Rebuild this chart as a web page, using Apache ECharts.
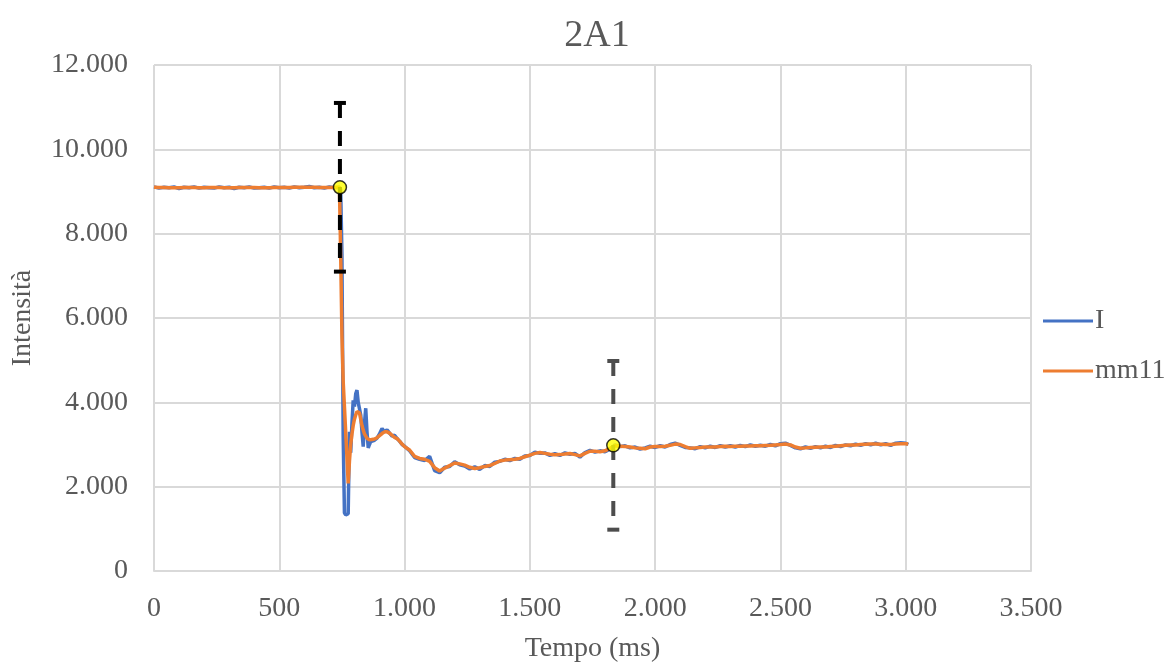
<!DOCTYPE html>
<html>
<head>
<meta charset="utf-8">
<title>2A1</title>
<script src="https://cdn.jsdelivr.net/npm/echarts@6/dist/echarts.min.js"></script>
<style>
  html, body { margin: 0; padding: 0; background: #ffffff; }
  #chart { width: 1169px; height: 662px; }
</style>
</head>
<body>
<div id="chart"></div>
<script>
// Tempo (ms) of each sample
const tempo = [
  0, 20, 40, 60, 80, 100, 120, 140, 160, 180, 200, 220, 240, 260, 280, 300, 320, 340, 360, 380,
  400, 420, 440, 460, 480, 500, 520, 540, 560, 580, 600, 620, 640, 660, 680, 700, 720, 740,
  745, 750, 755, 760, 765, 770, 775, 780, 785, 790, 795, 800, 805, 810, 815, 820, 825, 830,
  835, 840, 845, 850, 855, 860, 865, 870,
  880, 890, 900, 910, 920, 930, 940, 950, 960, 970, 980, 990, 1000,
  1020, 1040, 1060, 1080, 1100, 1120, 1140, 1160, 1180, 1200,
  1220, 1240, 1260, 1280, 1300, 1320, 1340, 1360, 1380, 1400,
  1420, 1440, 1460, 1480, 1500, 1520, 1540, 1560, 1580, 1600,
  1620, 1640, 1660, 1680, 1700, 1720, 1740, 1760, 1780, 1800,
  1820, 1840, 1860, 1880, 1900, 1920, 1940, 1960, 1980, 2000,
  2020, 2040, 2060, 2080, 2100, 2120, 2140, 2160, 2180, 2200,
  2220, 2240, 2260, 2280, 2300, 2320, 2340, 2360, 2380, 2400,
  2420, 2440, 2460, 2480, 2500, 2520, 2540, 2560, 2580, 2600,
  2620, 2640, 2660, 2680, 2700, 2720, 2740, 2760, 2780, 2800,
  2820, 2840, 2860, 2880, 2900, 2920, 2940, 2960, 2980, 3000,
  3010
];

// Raw intensity I
const serieI = [
  9110, 9080, 9100, 9090, 9110, 9070, 9100, 9090, 9110, 9080,
  9100, 9090, 9080, 9110, 9090, 9100, 9070, 9100, 9090, 9110,
  9080, 9090, 9100, 9080, 9110, 9090, 9100, 9080, 9110, 9090,
  9100, 9120, 9090, 9100, 9080, 9110, 9090, 9100,
  9050, 7500, 3200, 1380, 1330, 1340, 1360, 3300, 2800, 3500,
  4050, 3900, 4200, 4290, 4000, 3850, 3700, 3300, 2950, 3500,
  3860, 3300, 2920, 3000, 3070, 3050,
  3100, 3150, 3250, 3380, 3300, 3350, 3270, 3200, 3220, 3140, 3080, 3000, 2960,
  2850, 2690, 2650, 2620, 2720, 2380, 2330, 2460, 2480, 2590,
  2520, 2490, 2420, 2470, 2410, 2500, 2480, 2580, 2600, 2650,
  2620, 2670, 2650, 2730, 2740, 2820, 2790, 2800, 2740, 2780,
  2740, 2800, 2770, 2790, 2700, 2810, 2860, 2820, 2850, 2830,
  2890, 2990, 2950, 2970, 2920, 2940, 2890, 2920, 2960, 2930,
  2970, 2940, 3000, 3030, 2980, 2930, 2920, 2900, 2950, 2920,
  2960, 2930, 2970, 2940, 2970, 2940, 2980, 2950, 2990, 2960,
  2980, 2960, 3000, 2970, 3020, 3030, 2980, 2920, 2900, 2940,
  2910, 2950, 2920, 2960, 2930, 2980, 2950, 2990, 2970, 3010,
  2980, 3020, 2990, 3030, 2990, 3020, 2980, 3030, 3040, 3030,
  3000
];

// 11-sample moving average mm11
const serieMM11 = [
  9100, 9095, 9095, 9090, 9090, 9090, 9095, 9095, 9095, 9090,
  9090, 9095, 9095, 9095, 9090, 9090, 9090, 9095, 9095, 9095,
  9095, 9090, 9090, 9090, 9095, 9095, 9095, 9095, 9100, 9100,
  9100, 9100, 9100, 9095, 9095, 9095, 9095, 9100,
  7500, 5600, 4500, 3900, 3300, 2700, 2080, 2600, 3000, 3250,
  3450, 3600, 3700, 3780, 3820, 3750, 3600, 3450, 3340, 3250,
  3200, 3150, 3120, 3110, 3110, 3120,
  3130, 3160, 3210, 3260, 3300, 3300, 3270, 3220, 3170, 3140, 3080, 3010, 2950,
  2870, 2720, 2670, 2650, 2600, 2450, 2370, 2440, 2500, 2560,
  2540, 2510, 2460, 2430, 2450, 2480, 2500, 2550, 2610, 2630,
  2640, 2650, 2670, 2710, 2750, 2790, 2810, 2790, 2770, 2755,
  2760, 2775, 2785, 2760, 2730, 2790, 2840, 2840, 2830, 2850,
  2910, 2970, 2960, 2950, 2940, 2920, 2910, 2900, 2940, 2950,
  2950, 2960, 2980, 3010, 3000, 2950, 2910, 2920, 2930, 2940,
  2940, 2940, 2950, 2960, 2950, 2960, 2960, 2965, 2965, 2970,
  2970, 2975, 2980, 2990, 3000, 3010, 2990, 2940, 2910, 2920,
  2930, 2935, 2940, 2940, 2950, 2960, 2970, 2980, 2990, 2990,
  3000, 3005, 3010, 3010, 3005, 3000, 3000, 3010, 3015, 3015,
  3010
];

// Marked points with their ± error
const puntiTempo = [742, 1833];
const puntiValore = [9100, 2980];
const puntiErrore = [2000, 2000];

// Axis ranges
const asseX = { min: 0, max: 3500, step: 500 };
const asseY = { min: 0, max: 12000, step: 2000 };

const FONT = '"Liberation Serif", "Times New Roman", serif';
const GREY = '#595959';
const TXT = 28;
const barColors = ['#000000', '#4d4d4d'];

// Italian thousands separator: 12000 -> 12.000
function fmt(v) {
  return String(Math.round(v)).replace(/\B(?=(\d{3})+(?!\d))/g, '.');
}

const dataI = tempo.map((t, i) => [t, serieI[i]]);
const dataMM = tempo.map((t, i) => [t, serieMM11[i]]);
const dataPunti = puntiTempo.map((t, i) => [t, puntiValore[i], puntiErrore[i]]);

const chart = echarts.init(document.getElementById('chart'), null, { renderer: 'canvas' });

chart.setOption({
  animation: false,
  backgroundColor: '#ffffff',
  title: {
    text: '2A1',
    left: 592,
    textAlign: 'center',
    top: 12,
    textStyle: { fontFamily: FONT, fontSize: 38, fontWeight: 'normal', color: GREY }
  },
  grid: { left: 154, right: 138, top: 65, bottom: 91, containLabel: false, outerBoundsMode: 'none' },
  legend: {
    data: ['I', 'mm11'],
    orient: 'vertical',
    left: 1038,
    top: 302,
    icon: 'rect',
    itemWidth: 50,
    itemHeight: 3,
    itemGap: 22,
    textStyle: { fontFamily: FONT, fontSize: TXT, color: GREY, lineHeight: 28, padding: [0, 0, 0, -3] }
  },
  xAxis: {
    type: 'value',
    min: asseX.min,
    max: asseX.max,
    interval: asseX.step,
    name: 'Tempo (ms)',
    nameLocation: 'middle',
    nameGap: 64,
    nameTextStyle: { fontFamily: FONT, fontSize: TXT, color: GREY },
    axisLine: { show: true, lineStyle: { color: '#d9d9d9', width: 2 } },
    axisTick: { show: false },
    axisLabel: { fontFamily: FONT, fontSize: TXT, color: GREY, margin: 24, formatter: fmt },
    splitLine: { show: true, lineStyle: { color: '#d9d9d9', width: 2 } }
  },
  yAxis: {
    type: 'value',
    min: asseY.min,
    max: asseY.max,
    interval: asseY.step,
    name: 'Intensità',
    nameLocation: 'middle',
    nameGap: 117,
    nameTextStyle: { fontFamily: FONT, fontSize: TXT, color: GREY },
    axisLine: { show: false },
    axisTick: { show: false },
    axisLabel: { fontFamily: FONT, fontSize: TXT, color: GREY, margin: 26, formatter: fmt },
    splitLine: { show: true, lineStyle: { color: '#d9d9d9', width: 2 } }
  },
  series: [
    {
      name: 'I',
      type: 'line',
      data: dataI,
      showSymbol: false,
      symbol: 'none',
      lineStyle: { color: '#4472c4', width: 3.5 },
      itemStyle: { color: '#4472c4' },
      z: 2
    },
    {
      name: 'mm11',
      type: 'line',
      data: dataMM,
      showSymbol: false,
      symbol: 'none',
      lineStyle: { color: '#ed7d31', width: 3.5 },
      itemStyle: { color: '#ed7d31' },
      z: 3
    },
    {
      name: 'errore',
      type: 'custom',
      data: dataPunti,
      z: 4,
      renderItem: function (params, api) {
        const x = api.value(0);
        const y = api.value(1);
        const e = api.value(2);
        const top = api.coord([x, y + e]);
        const bot = api.coord([x, y - e]);
        const color = barColors[params.dataIndex];
        const cap = 6;
        return {
          type: 'group',
          children: [
            {
              type: 'line',
              shape: { x1: top[0], y1: top[1], x2: bot[0], y2: bot[1] },
              style: { stroke: color, lineWidth: 4, lineDash: [15, 13] }
            },
            {
              type: 'line',
              shape: { x1: top[0] - cap, y1: top[1], x2: top[0] + cap, y2: top[1] },
              style: { stroke: color, lineWidth: 4 }
            },
            {
              type: 'line',
              shape: { x1: bot[0] - cap, y1: bot[1], x2: bot[0] + cap, y2: bot[1] },
              style: { stroke: color, lineWidth: 4 }
            }
          ]
        };
      }
    },
    {
      name: 'punti',
      type: 'scatter',
      data: dataPunti.map(p => [p[0], p[1]]),
      symbol: 'circle',
      symbolSize: 13,
      itemStyle: { color: '#ffff00', borderColor: '#000000', borderWidth: 1.5 },
      z: 5
    }
  ]
});
</script>
</body>
</html>
